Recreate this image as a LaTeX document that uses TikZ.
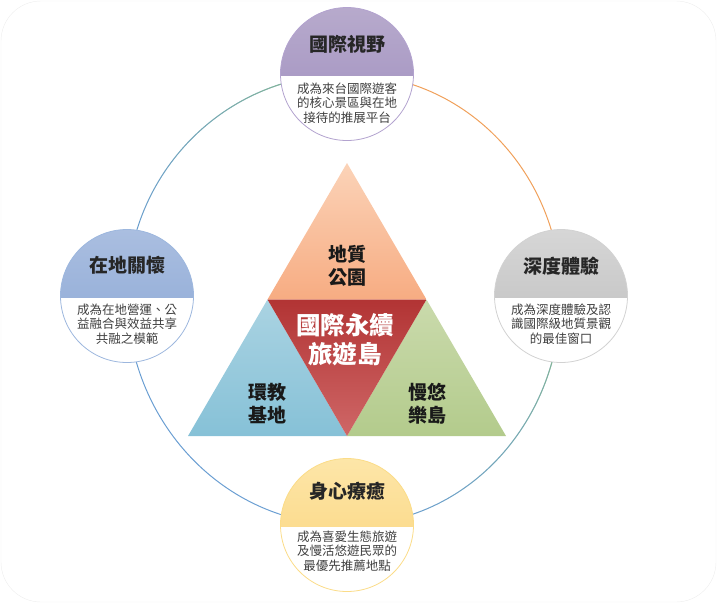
\documentclass[tikz,border=0pt]{standalone}
\usepackage{fontspec}
\usetikzlibrary{positioning, calc, fadings}
\newfontfamily\cjk{Noto Sans CJK TC}
\definecolor{lavT}{HTML}{B7AACC}
\definecolor{lavB}{HTML}{9F8EBF}
\definecolor{lavD}{HTML}{B3A3CF}
\definecolor{bluT}{HTML}{AABEE0}
\definecolor{bluB}{HTML}{8AA7D5}
\definecolor{bluD}{HTML}{9DB7DE}
\definecolor{gryT}{HTML}{D6D6D6}
\definecolor{gryB}{HTML}{BDBDBD}
\definecolor{gryD}{HTML}{D2D2D2}
\definecolor{ylwT}{HTML}{FDE6A8}
\definecolor{ylwB}{HTML}{FBD37A}
\definecolor{ylwD}{HTML}{FBDC88}
\definecolor{ringB}{HTML}{6A9ED2}
\definecolor{ringG}{HTML}{8FBF7A}
\definecolor{ringO}{HTML}{F0A05A}
\definecolor{peachT}{HTML}{FBD3B8}
\definecolor{peachB}{HTML}{F7AC82}
\definecolor{skyT}{HTML}{AAD3E2}
\definecolor{skyB}{HTML}{86C1D7}
\definecolor{leafT}{HTML}{CADAAC}
\definecolor{leafB}{HTML}{B3CB8C}
\definecolor{redT}{HTML}{B23434}
\definecolor{redB}{HTML}{CF6767}
\tikzfading[name=greenright, left color=transparent!100, right color=transparent!0]
\tikzfading[name=greentop, top color=transparent!0, bottom color=transparent!100]
\pgfdeclarelayer{frame}
\pgfdeclarelayer{ring}
\pgfsetlayers{frame,ring,main}

\begin{document}
\begin{tikzpicture}[
  x=1pt, y=-1pt,
  goal/.style n args={3}{circle, minimum size=133pt, inner sep=0pt,
              draw=#1, line width=0.8pt, fill=white,
              path picture={\shade[top color=#2, bottom color=#3]
                (path picture bounding box.north west) rectangle
                ([yshift=-1pt]path picture bounding box.east);}},
  ttl/.style={font=\cjk\bfseries\fontsize{19}{22}\selectfont, text=black!85},
  txt/.style={font=\cjk\fontsize{12.5}{14.5}\selectfont, align=center,
              text=black!75, inner sep=0pt},
  tri/.style={font=\cjk\bfseries\fontsize{19}{23}\selectfont, align=center,
              text=black!90, inner sep=0pt},
  core/.style={font=\cjk\bfseries\fontsize{24.5}{29}\selectfont, align=center,
               inner sep=0pt, text=white},
  ringline/.style={line width=1pt}
]
  % 外框
  \useasboundingbox (0,0) rectangle (717,603);
  \begin{pgfonlayer}{frame}
    \draw[black!7, rounded corners=40pt] (1,1) rectangle (716,602);
  \end{pgfonlayer}
  % 四個圓
  \node[goal={lavD}{lavT}{lavB}] (intl) at (347,74) {};
  \node[goal={bluD}{bluT}{bluB}] (local) at (127,296) {};
  \node[goal={gryD}{gryT}{gryB}] (depth) at (561,296) {};
  \node[goal={ylwD}{ylwT}{ylwB}] (heal) at (347,525) {};
  \node[ttl] at ([yshift=30pt]intl.center) {國際視野};
  \node[txt] at ([yshift=-29pt]intl.center) {成為來台國際遊客\\的核心景區與在地\\接待的推展平台};
  \node[ttl] at ([yshift=31pt]local.center) {在地關懷};
  \node[txt] at ([yshift=-28pt]local.center) {成為在地營運、公\\益融合與效益共享\\共融之模範};
  \node[ttl] at ([yshift=30pt]depth.center) {深度體驗};
  \node[txt] at ([yshift=-28pt]depth.center) {成為深度體驗及認\\識國際級地質景觀\\的最佳窗口};
  \node[ttl] at ([yshift=34pt]heal.center) {身心療癒};
  \node[txt] at ([yshift=-26pt]heal.center) {成為喜愛生態旅遊\\及慢活悠遊民眾的\\最優先推薦地點};
  % 圓環
  \begin{pgfonlayer}{ring}
    \draw[ringline, ringB] (intl.center) to[out=180, in=90] (local.center);
    \draw[ringline, ringG, path fading=greenright] (intl.center) to[out=180, in=90] (local.center);
    \draw[ringline, ringO] (intl.center) to[out=0, in=90] (depth.center);
    \draw[ringline, ringB] (depth.center) to[out=270, in=0] (heal.center);
    \draw[ringline, ringG, path fading=greentop] (depth.center) to[out=270, in=0] (heal.center);
    \draw[ringline, ringB] (heal.center) to[out=180, in=270] (local.center);
  \end{pgfonlayer}
  % 三角形
  \coordinate (apex) at (347,163);
  \coordinate (bl) at (188,436);
  \coordinate (br) at (506,436);
  \coordinate (ml) at ($(apex)!0.5!(bl)$);
  \coordinate (mr) at ($(apex)!0.5!(br)$);
  \coordinate (mb) at ($(bl)!0.5!(br)$);
  \shade[top color=peachT, bottom color=peachB] (apex) -- (mr) -- (ml) -- cycle;
  \shade[top color=skyT, bottom color=skyB] (ml) -- (mb) -- (bl) -- cycle;
  \shade[top color=leafT, bottom color=leafB] (mr) -- (br) -- (mb) -- cycle;
  \shade[top color=redT, bottom color=redB] (ml) -- (mr) -- (mb) -- cycle;
  \node[tri] (geo) at (347,266) {地質\\公園};
  \node[tri] (edu) at (267,404) {環教\\基地};
  \node[tri] (slow) at (427,404) {慢悠\\樂島};
  \node[core] (isle) at (345,339.5) {國際永續\\旅遊島};
\end{tikzpicture}
\end{document}
